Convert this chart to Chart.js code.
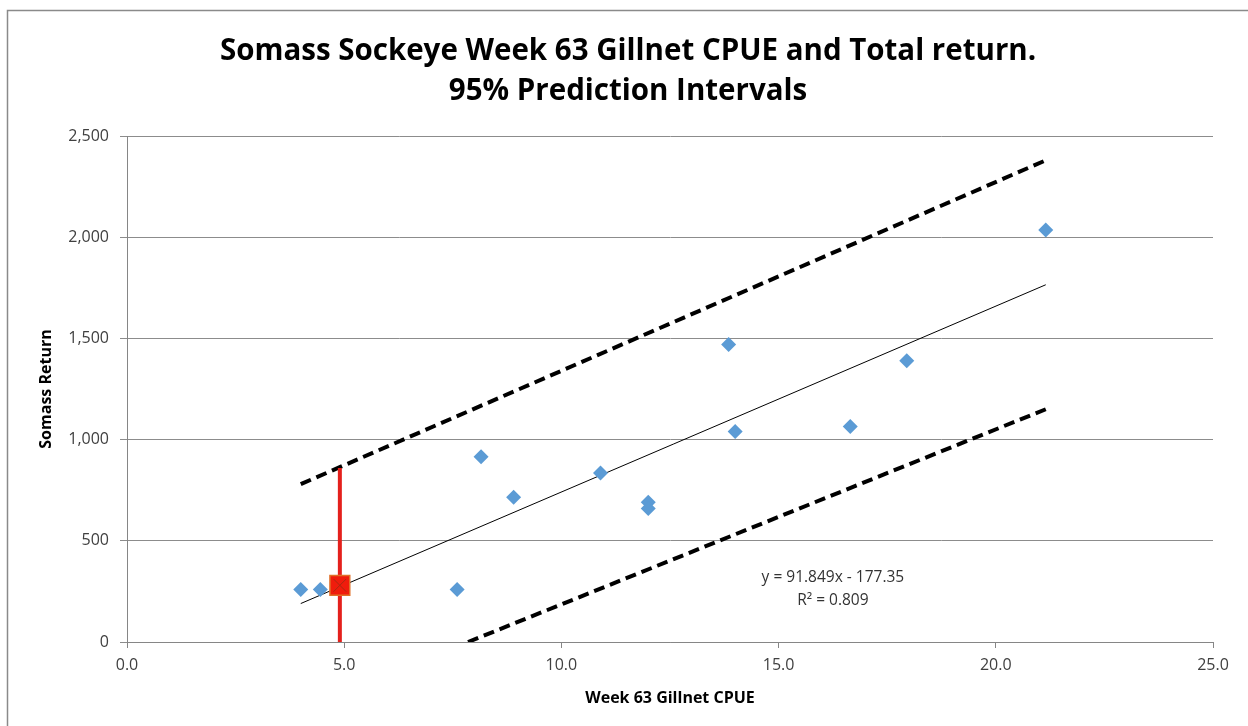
<!DOCTYPE html>
<html>
<head>
<meta charset="utf-8">
<script src="https://cdn.jsdelivr.net/npm/chart.js@4.4.1/dist/chart.umd.min.js"></script>
<style>
    html, body { margin: 0; padding: 0; background: #fff; }
    #wrap { width: 1248px; height: 726px; position: relative; }
</style>
</head>
<body>
<div id="wrap"><canvas id="chart" width="1248" height="726"></canvas></div>
<script>
// observed catches (Week 63 gillnet CPUE) vs total return
const cpue = [4.0, 4.45, 7.6, 8.15, 8.9, 10.9, 12.0, 12.0, 13.85, 14.0, 16.65, 17.95, 21.15];
const somassReturn = [260, 260, 260, 915, 715, 835, 690, 660, 1470, 1040, 1065, 1390, 2035];

// linear trend line ends
const trendX = [4.0, 21.15];
const trendY = [190, 1765];

// 95% prediction interval bounds
const upperX = [4.0, 21.15];
const upperY = [780, 2380];
const lowerX = [7.85, 21.15];
const lowerY = [0, 1150];

// this year's forecast point and its interval
const forecastX = 4.9;
const forecastY = 280;
const forecastRange = [0, 860];

const xTicks = [0, 5, 10, 15, 20, 25];
const yTicks = [0, 500, 1000, 1500, 2000, 2500];

const titleLines = ['Somass Sockeye Week 63 Gillnet CPUE and Total return.', '95% Prediction Intervals'];
const xTitle = 'Week 63 Gillnet CPUE';
const yTitle = 'Somass Return';
const eqLines = ['y = 91.849x - 177.35', 'R² = 0.809'];

const pairs = (xs, ys) => xs.map((x, i) => ({ x: x, y: ys[i] }));

const FONT = "'Open Sans', sans-serif";

// texts and outer frame drawn on the canvas
const textPlugin = {
    id: 'texts',
    beforeDraw(chart) {
        const ctx = chart.ctx;
        ctx.save();
        ctx.strokeStyle = '#8a8a8a';
        ctx.lineWidth = 1.5;
        ctx.beginPath();
        ctx.moveTo(7.5, 726);
        ctx.lineTo(7.5, 10.5);
        ctx.lineTo(1248, 10.5);
        ctx.stroke();
        ctx.restore();
    },
    afterDraw(chart) {
        const ctx = chart.ctx;
        const area = chart.chartArea;
        const xs = chart.scales.x, ys = chart.scales.y;
        ctx.save();
        ctx.fillStyle = '#000';
        ctx.textAlign = 'center';
        ctx.textBaseline = 'middle';
        ctx.font = "bold 29.5px " + FONT;
        ctx.fillText(titleLines[0], 628, 52);
        ctx.fillText(titleLines[1], 628, 92);

        ctx.font = "bold 16px " + FONT;
        ctx.fillText(xTitle, (area.left + area.right) / 2, 698);
        ctx.save();
        ctx.translate(46, (area.top + area.bottom) / 2);
        ctx.rotate(-Math.PI / 2);
        ctx.fillText(yTitle, 0, 0);
        ctx.restore();

        ctx.fillStyle = '#333';
        ctx.font = "15.5px " + FONT;
        const ex = xs.getPixelForValue(16.25);
        ctx.fillText(eqLines[0], ex, ys.getPixelForValue(318));
        ctx.fillText(eqLines[1], ex, ys.getPixelForValue(204));
        ctx.restore();
    }
};

new Chart(document.getElementById('chart'), {
    type: 'scatter',
    data: {
        datasets: [{
            // X over the forecast marker
            data: [{ x: forecastX, y: forecastY }],
            pointStyle: 'crossRot',
            pointRadius: 9,
            borderColor: '#a82a12',
            borderWidth: 1,
            pointHoverRadius: 9
        }, {
            data: [{ x: forecastX, y: forecastY }],
            pointStyle: 'rect',
            pointRadius: 14,
            backgroundColor: '#f01c0c',
            borderColor: '#e07028',
            borderWidth: 1.5,
            pointHoverRadius: 14
        }, {
            data: pairs(cpue, somassReturn),
            pointStyle: 'rectRot',
            pointRadius: 7.5,
            backgroundColor: '#5b9bd5',
            borderColor: '#5b9bd5',
            borderWidth: 0,
            pointHoverRadius: 7.5
        }, {
            data: pairs([forecastX, forecastX], forecastRange),
            showLine: true,
            borderColor: '#e4201c',
            borderWidth: 4,
            pointRadius: 0
        }, {
            data: pairs(trendX, trendY),
            showLine: true,
            borderColor: '#000',
            borderWidth: 1,
            pointRadius: 0
        }, {
            data: pairs(upperX, upperY),
            showLine: true,
            borderColor: '#000',
            borderWidth: 4,
            borderDash: [11, 6],
            pointRadius: 0
        }, {
            data: pairs(lowerX, lowerY),
            showLine: true,
            borderColor: '#000',
            borderWidth: 4,
            borderDash: [11, 6],
            pointRadius: 0
        }]
    },
    options: {
        responsive: false,
        animation: false,
        events: [],
        layout: { padding: { top: 136, right: 35, left: 0, bottom: 0 } },
        plugins: {
            legend: { display: false },
            tooltip: { enabled: false },
            title: { display: false }
        },
        scales: {
            x: {
                type: 'linear',
                min: 0,
                max: 25,
                afterBuildTicks: (s) => { s.ticks = xTicks.map(v => ({ value: v })); },
                afterFit: (s) => { s.height = 84; },
                border: { color: '#868686', width: 1 },
                grid: { drawOnChartArea: false, drawTicks: true, tickLength: 6, color: '#868686' },
                ticks: {
                    padding: 8,
                    color: '#404040',
                    font: { family: FONT, size: 16 },
                    callback: (v) => Number(v).toFixed(1)
                }
            },
            y: {
                type: 'linear',
                min: 0,
                max: 2500,
                afterBuildTicks: (s) => { s.ticks = yTicks.map(v => ({ value: v })); },
                afterFit: (s) => { s.width = 127; },
                border: { color: '#868686', width: 1 },
                grid: { drawTicks: true, tickLength: 7, color: '#8c8c8c' },
                ticks: {
                    padding: 11,
                    color: '#404040',
                    font: { family: FONT, size: 16 },
                    callback: (v) => Number(v).toLocaleString('en-US')
                }
            }
        }
    },
    plugins: [textPlugin]
});
</script>
</body>
</html>
